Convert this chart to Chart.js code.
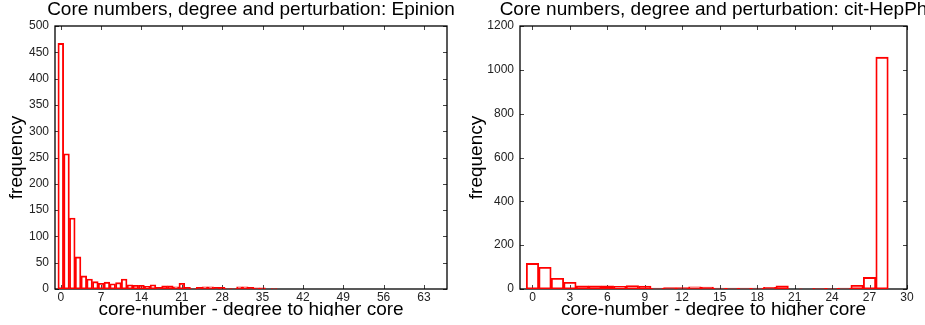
<!DOCTYPE html>
<html>
<head>
<meta charset="utf-8">
<script src="https://cdn.jsdelivr.net/npm/chart.js@4/dist/chart.umd.min.js"></script>
<style>
  html, body { margin: 0; padding: 0; background: #fff; overflow: hidden; }
  #wrap { position: relative; width: 925px; height: 316px; overflow: hidden; background: #fff; }
  canvas { position: absolute; top: 0; }
  #epinion { left: 0; }
  #hepph { left: 460px; }
</style>
</head>
<body>
<div id="wrap">
  <canvas id="epinion" width="502" height="325"></canvas>
  <canvas id="hepph" width="507" height="325"></canvas>
</div>
<script>
// Histogram bins: core-number minus degree to higher core
const epinionBins = [0, 1, 2, 3, 4, 5, 6, 7, 8, 9, 10, 11, 12, 13, 14, 15, 16, 17, 18, 19,
                     20, 21, 22, 23, 24, 25, 26, 27, 28, 29, 30, 31, 32, 33, 34, 35, 36, 37];
const epinionCounts = [467, 257, 135, 61, 25, 19, 14, 11, 13, 10, 12, 19, 8, 7, 7, 5, 8, 3, 6, 6,
                       4, 11, 3, 1, 3, 4, 4, 3, 3, 1, 1, 4, 4, 3, 2, 2, 0, 1];
const epinionXTicks = [0, 7, 14, 21, 28, 35, 42, 49, 56, 63];
const epinionYTicks = [0, 50, 100, 150, 200, 250, 300, 350, 400, 450, 500];

const hepphBins = [0, 1, 2, 3, 4, 5, 6, 7, 8, 9, 10, 11, 12, 13, 14, 15, 16, 17, 18, 19,
                   20, 21, 22, 23, 24, 25, 26, 27, 28];
const hepphCounts = [117, 99, 49, 31, 15, 15, 14, 12, 16, 13, 4, 7, 7, 10, 9, 4, 4, 4, 4, 8,
                     15, 1, 1, 3, 3, 4, 17, 53, 1058];
const hepphXTicks = [0, 3, 6, 9, 12, 15, 18, 21, 24, 27, 30];
const hepphYTicks = [0, 200, 400, 600, 800, 1000, 1200];

const FONT = "'Liberation Sans', Arial, Helvetica, sans-serif";

// Plot frame with inward tick marks on all four sides
const frameTicks = {
  id: 'frameTicks',
  beforeDatasetsDraw(chart) {
    const { ctx, chartArea: a, scales: { x, y } } = chart;
    ctx.save();
    ctx.strokeStyle = '#444';
    ctx.lineWidth = 1;
    ctx.beginPath();
    x.ticks.forEach(t => {
      const px = Math.round(x.getPixelForValue(t.value)) + 0.5;
      ctx.moveTo(px, a.bottom); ctx.lineTo(px, a.bottom - 4);
      ctx.moveTo(px, a.top); ctx.lineTo(px, a.top + 4);
    });
    y.ticks.forEach(t => {
      const py = Math.round(y.getPixelForValue(t.value)) + 0.5;
      ctx.moveTo(a.left, py); ctx.lineTo(a.left + 4, py);
      ctx.moveTo(a.right, py); ctx.lineTo(a.right - 4, py);
    });
    ctx.stroke();
    ctx.strokeStyle = '#000';
    ctx.lineWidth = 1.3;
    ctx.strokeRect(a.left, a.top, a.right - a.left, a.bottom - a.top);
    ctx.restore();
  }
};

function histogram(canvasId, cfg) {
  return new Chart(document.getElementById(canvasId), {
    type: 'bar',
    data: {
      datasets: [{
        data: cfg.bins.map((b, i) => ({ x: b, y: cfg.counts[i] })),
        backgroundColor: 'rgba(255,255,255,0)',
        borderColor: '#ff0000',
        borderWidth: 1.2,
        borderSkipped: false,
        barPercentage: 1,
        categoryPercentage: 1
      }]
    },
    options: {
      responsive: false,
      animation: false,
      devicePixelRatio: 1,
      layout: { padding: 0 },
      plugins: {
        legend: { display: false },
        tooltip: { enabled: false },
        title: {
          display: true,
          text: cfg.title,
          color: '#000',
          font: { family: FONT, size: 19, weight: 'normal', lineHeight: 0.9 },
          padding: { top: 1.5, bottom: 7.4 }
        }
      },
      scales: {
        x: {
          type: 'linear',
          min: cfg.xMin,
          max: cfg.xMax,
          offset: false,
          grid: { display: false, drawTicks: false, offset: false },
          border: { display: false },
          ticks: {
            color: '#222',
            font: { family: FONT, size: 12 },
            padding: 1.8,
            maxRotation: 0,
            autoSkip: false,
            callback: v => String(v)
          },
          afterBuildTicks: s => { s.ticks = cfg.xTicks.map(v => ({ value: v })); },
          afterFit: s => { s.height = 36; },
          title: {
            display: true,
            text: 'core-number - degree to higher core',
            color: '#000',
            font: { family: FONT, size: 19 },
            padding: { top: 0, bottom: 4.0 }
          }
        },
        y: {
          type: 'linear',
          position: 'left',
          min: 0,
          max: cfg.yMax,
          grid: { display: false, drawTicks: false },
          border: { display: false },
          ticks: {
            color: '#222',
            font: { family: FONT, size: 12 },
            padding: 6,
            autoSkip: false,
            callback: v => String(v)
          },
          afterBuildTicks: s => { s.ticks = cfg.yTicks.map(v => ({ value: v })); },
          afterFit: s => { s.width = cfg.leftWidth; },
          title: {
            display: true,
            text: 'frequency',
            color: '#000',
            font: { family: FONT, size: 19 },
            padding: { top: 5, bottom: 0 }
          }
        },
        yRight: {
          type: 'linear',
          position: 'right',
          grid: { display: false, drawTicks: false },
          border: { display: false },
          ticks: { display: false },
          afterFit: s => { s.width = cfg.rightWidth; }
        }
      }
    },
    plugins: [frameTicks]
  });
}

histogram('epinion', {
  title: 'Core numbers, degree and perturbation: Epinion',
  bins: epinionBins, counts: epinionCounts,
  xMin: -1, xMax: 67, xTicks: epinionXTicks,
  yMax: 500, yTicks: epinionYTicks,
  leftWidth: 55, rightWidth: 55
});

histogram('hepph', {
  title: 'Core numbers, degree and perturbation: cit-HepPh',
  bins: hepphBins, counts: hepphCounts,
  xMin: -1, xMax: 30, xTicks: hepphXTicks,
  yMax: 1200, yTicks: hepphYTicks,
  leftWidth: 60, rightWidth: 60
});
</script>
</body>
</html>
